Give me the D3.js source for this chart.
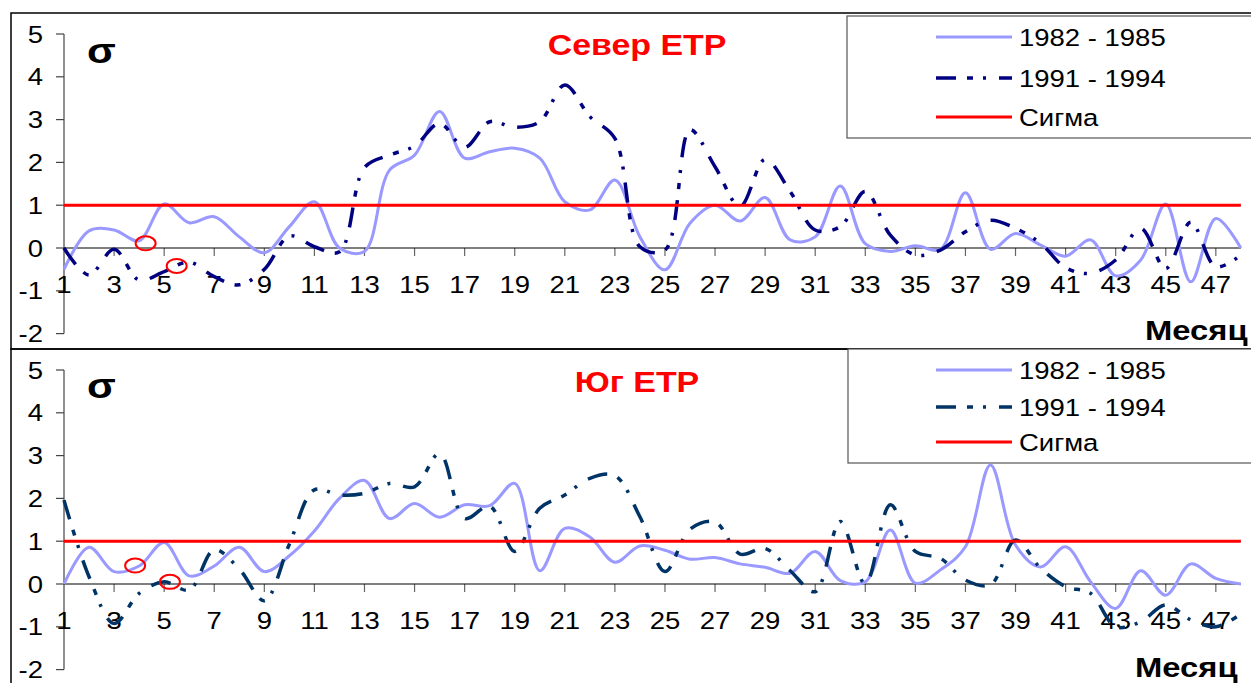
<!DOCTYPE html>
<html><head><meta charset="utf-8">
<script src="https://cdn.jsdelivr.net/npm/d3@7"></script>
<style>html,body{margin:0;padding:0;background:#fff;}svg{display:block;font-family:Arial,"Liberation Sans",sans-serif;}</style>
</head><body>
<svg id="chart" width="1251" height="683"></svg>
<script>
// ---- data ----
const months = [1,2,3,4,5,6,7,8,9,10,11,12,13,14,15,16,17,18,19,20,21,22,23,24,25,26,27,28,29,30,31,32,33,34,35,36,37,38,39,40,41,42,43,44,45,46,47,48];
const xTickLabels = [1,3,5,7,9,11,13,15,17,19,21,23,25,27,29,31,33,35,37,39,41,43,45,47];
const yTickLabels = [-2,-1,0,1,2,3,4,5];
const seriesNames = ["1982 - 1985", "1991 - 1994", "Сигма"];
const sigmaLevel = 1;

const northTitle = "Север ЕТР";
const north8285 = [-0.5,0.40,0.42,0.17,1.03,0.59,0.73,0.26,-0.11,0.5,1.08,0.0,-0.08,1.82,2.17,3.19,2.1,2.25,2.33,2.1,1.08,0.89,1.59,0.26,-0.51,0.58,1.0,0.63,1.18,0.19,0.26,1.45,0.1,-0.08,0.05,-0.03,1.29,-0.03,0.34,0.07,-0.19,0.19,-0.65,-0.28,1.03,-0.79,0.69,0.0];
const north9194 = [0.0,-0.63,-0.03,-0.75,-0.55,-0.33,-0.67,-0.86,-0.5,0.28,0.03,-0.09,1.88,2.17,2.38,2.91,2.35,2.95,2.82,2.95,3.81,3.07,2.56,0.03,-0.05,2.76,1.9,0.97,2.07,1.32,0.42,0.5,1.32,0.3,-0.16,-0.05,0.38,0.65,0.46,0.11,-0.46,-0.59,-0.28,0.46,-0.48,0.6,-0.44,-0.16];
const northMarks = [[4.26,0.11],[5.5,-0.42]];

const southTitle = "Юг ЕТР";
const south8285 = [0.0,0.86,0.29,0.42,0.97,0.19,0.42,0.86,0.29,0.66,1.24,2.0,2.42,1.53,1.88,1.56,1.85,1.83,2.35,0.31,1.3,1.1,0.51,0.89,0.79,0.58,0.62,0.47,0.39,0.25,0.76,0.08,0.05,1.26,0.02,0.33,0.87,2.78,0.91,0.4,0.87,0.05,-0.57,0.31,-0.26,0.47,0.13,0.0];
const south9194 = [1.96,0.17,-0.92,-0.22,0.05,-0.14,0.8,0.35,-0.39,0.93,2.2,2.08,2.12,2.35,2.27,3.05,1.53,1.82,0.76,1.77,2.08,2.47,2.53,1.57,0.29,1.28,1.45,0.7,0.83,0.31,-0.18,1.46,0.0,1.85,0.76,0.6,0.09,-0.02,1.03,0.37,-0.06,-0.22,-1.0,-0.88,-0.49,-0.84,-1.0,-0.7];
const southMarks = [[3.84,0.43],[5.23,0.05]];

// ---- drawing ----
const svg = d3.select("#chart");
const SX = 1.17; // horizontal text stretch of the original
const x = d3.scaleLinear().domain([1,48]).range([64, 64 + 47*25.04]);
const lightColor = "#9999FF";
const dashPattern = "20,11,6,10,3,13";

function stretchedText(g, tx, ty, txt, size, weight, anchor, fill) {
  return g.append("text")
    .attr("transform", `translate(${tx},${ty}) scale(${SX},1)`)
    .attr("text-anchor", anchor)
    .attr("font-size", size)
    .attr("font-weight", weight)
    .attr("fill", fill)
    .text(txt);
}

function panel(cfg) {
  const g = svg.append("g");
  const unit = 42.8;
  const y = d3.scaleLinear().domain([-2,5]).range([cfg.zeroY + 2*unit, cfg.zeroY - 5*unit]);

  // frame
  g.append("rect").attr("x", 11).attr("y", cfg.frameTop).attr("width", 1260).attr("height", cfg.frameH)
    .attr("fill", "none").attr("stroke", "#000").attr("stroke-width", 1.5);

  // legend box
  g.append("rect").attr("x", cfg.legX).attr("y", cfg.legTop).attr("width", 1270 - cfg.legX).attr("height", cfg.legBottom - cfg.legTop)
    .attr("fill", "#fff").attr("stroke", "#555").attr("stroke-width", 1.2);
  const legRows = cfg.legRows;
  const legStyles = [
    {c: lightColor, w: 3, d: null},
    {c: cfg.darkColor, w: 3.5, d: dashPattern},
    {c: "#FF0000", w: 3, d: null}
  ];
  seriesNames.forEach((n,i) => {
    const ln = g.append("line").attr("x1", 936).attr("x2", 1012).attr("y1", legRows[i]).attr("y2", legRows[i])
      .attr("stroke", legStyles[i].c).attr("stroke-width", legStyles[i].w);
    if (legStyles[i].d) ln.attr("stroke-dasharray", legStyles[i].d);
    stretchedText(g, 1019, legRows[i] + 8.5, n, 23.5, "normal", "start", "#000");
  });

  // titles
  stretchedText(g, 637, cfg.titleBase, cfg.title, 29, "bold", "middle", "#FF0000");
  stretchedText(g, 87, cfg.sigmaBase, "σ", 36, "bold", "start", "#000");
  stretchedText(g, cfg.monthX, cfg.monthBase, "Месяц", 28, "bold", "start", "#000");

  // y axis
  g.append("line").attr("x1", 64).attr("x2", 64).attr("y1", y(5)).attr("y2", y(-2)).attr("stroke", "#444").attr("stroke-width", 1.2);
  yTickLabels.forEach(t => {
    g.append("line").attr("x1", 56).attr("x2", 64).attr("y1", y(t)).attr("y2", y(t)).attr("stroke", "#444").attr("stroke-width", 1.2);
    stretchedText(g, 43, y(t) + 8.5, String(t), 23.5, "normal", "end", "#000");
  });

  // x axis at zero
  xTickLabels.forEach(m => {
    stretchedText(g, x(m), cfg.zeroY + 45, String(m), 23.5, "normal", "middle", "#000");
    if (m > 1) g.append("line").attr("x1", x(m)).attr("x2", x(m)).attr("y1", cfg.zeroY).attr("y2", cfg.zeroY + 8)
      .attr("stroke", "#666").attr("stroke-width", 1.2);
  });
  g.append("line").attr("x1", x(1)).attr("x2", x(48)).attr("y1", y(0)).attr("y2", y(0)).attr("stroke", "#000").attr("stroke-width", 1.2);

  const line = d3.line().x((d,i) => x(months[i])).y(d => y(d)).curve(d3.curveCatmullRom.alpha(0.5));

  g.append("path").attr("d", line(cfg.light)).attr("fill", "none").attr("stroke", lightColor).attr("stroke-width", 3);
  g.append("path").attr("d", line(cfg.dark)).attr("fill", "none").attr("stroke", cfg.darkColor).attr("stroke-width", 3.5)
    .attr("stroke-dasharray", dashPattern);

  // sigma line
  g.append("line").attr("x1", x(1)).attr("x2", x(48)).attr("y1", y(sigmaLevel)).attr("y2", y(sigmaLevel))
    .attr("stroke", "#FF0000").attr("stroke-width", 3);

  // annotation ellipses
  cfg.marks.forEach(p => {
    g.append("ellipse").attr("cx", x(p[0])).attr("cy", y(p[1])).attr("rx", 10).attr("ry", 7)
      .attr("fill", "none").attr("stroke", "#FF0000").attr("stroke-width", 2);
  });
}

panel({
  title: northTitle, zeroY: 248, darkColor: "#000080", light: north8285, dark: north9194, marks: northMarks,
  frameTop: 13, frameH: 336, legX: 847, legTop: 16, legBottom: 138, legRows: [37, 78, 117],
  titleBase: 55, sigmaBase: 63, monthX: 1145, monthBase: 340
});
panel({
  title: southTitle, zeroY: 584, darkColor: "#003366", light: south8285, dark: south9194, marks: southMarks,
  frameTop: 349, frameH: 340, legX: 848, legTop: 349, legBottom: 463, legRows: [370, 407, 442],
  titleBase: 392, sigmaBase: 398, monthX: 1135, monthBase: 677
});
</script>
</body></html>
